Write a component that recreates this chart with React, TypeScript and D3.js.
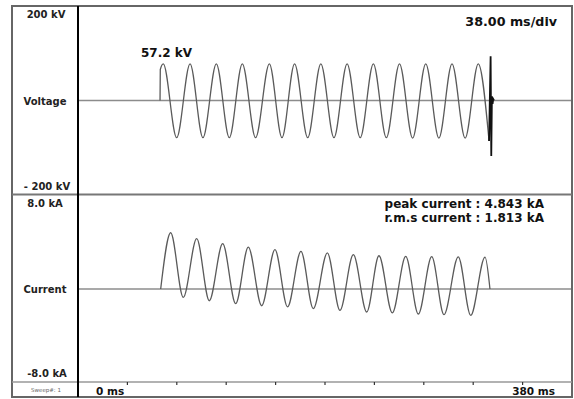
import React from "react";
import * as d3 from "d3";

// ---- data ----
const timeTicksMs = [0, 38, 76, 114, 152, 190, 228, 266, 304, 342, 380];
const voltageStart = { t: 63.1, v: 0 };
const voltageJump = { t: 63.3, v: 66 };
const voltagePeakMs = [65.6, 86.2, 106.4, 126.4, 147.2, 166.6, 186.8, 207.0, 227.2, 247.3, 267.5, 287.7, 307.9];
const voltagePeakKv = [78, 78, 78, 78, 78, 78, 78, 78, 78, 78, 78, 78, 78];
const voltageTroughMs = [75.9, 96.1, 116.4, 136.6, 156.9, 176.7, 196.9, 217.1, 237.2, 257.4, 277.6, 297.8];
const voltageTroughKv = [-79, -79, -79, -79, -79, -79, -79, -79, -79, -80, -80, -80];
const voltageTailMs = [316.2];
const voltageTailKv = [-86];
const spikeMs = [316.2, 317.4, 317.9, 318.4, 318.9, 319.4, 320.0];
const spikeKv = [-86, 94, -118, 9, -7, 3, 0];

const currentStart = { t: 63.6, v: 0 };
const currentPeakMs = [71.3, 91.3, 111.3, 131.0, 151.5, 171.5, 191.8, 211.8, 231.5, 252.1, 272.1, 292.5, 313.1];
const currentPeakKa = [4.84, 4.33, 3.9, 3.61, 3.38, 3.23, 3.1, 2.95, 2.86, 2.8, 2.78, 2.77, 2.75];
const currentTroughMs = [81.0, 101.0, 121.3, 141.3, 161.2, 181.0, 201.5, 222.1, 241.8, 261.8, 281.5, 302.1];
const currentTroughKa = [-0.72, -1.01, -1.26, -1.44, -1.54, -1.69, -1.84, -1.98, -2.06, -2.15, -2.21, -2.27];
const currentEnd = { t: 316.9, v: 0 };

const voltageLabels = ["200 kV", "Voltage", "- 200 kV"];
const currentLabels = ["8.0 kA", "Current", "-8.0 kA"];
const peakLabel = "57.2 kV";
const divLabel = "38.00 ms/div";
const peakCurrentLabel = "peak current : 4.843 kA";
const rmsCurrentLabel = "r.m.s current : 1.813 kA";
const sweepLabel = "Sweep#: 1";
const timeStartLabel = "0 ms";
const timeEndLabel = "380 ms";

type Pt = { t: number; v: number };

function interleave(pMs: number[], pV: number[], tMs: number[], tV: number[]): Pt[] {
  const out: Pt[] = [];
  for (let i = 0; i < pMs.length; i++) {
    out.push({ t: pMs[i], v: pV[i] });
    if (i < tMs.length) out.push({ t: tMs[i], v: tV[i] });
  }
  return out;
}

export default function App() {
  const W = 574;
  const H = 399;
  const left = 12, right = 572, top = 6, bottom = 397;
  const divX = 78;
  const panelSplit = 194.5;
  const stripY = 382;

  const x = d3.scaleLinear().domain([0, 380]).range([divX, right]);
  const yV = d3.scaleLinear().domain([-200, 200]).range([194.5, 6.5]);
  const yI = d3.scaleLinear().domain([-8, 8]).range([382, 196]);

  const vPts: Pt[] = [
    voltageStart,
    voltageJump,
    ...interleave(voltagePeakMs, voltagePeakKv, voltageTroughMs, voltageTroughKv),
    ...voltageTailMs.map((t, i) => ({ t, v: voltageTailKv[i] })),
  ];
  const spikePts: Pt[] = spikeMs.map((t, i) => ({ t, v: spikeKv[i] }));
  const iPts: Pt[] = [
    currentStart,
    ...interleave(currentPeakMs, currentPeakKa, currentTroughMs, currentTroughKa),
    currentEnd,
  ];

  const vLine = d3
    .line<Pt>()
    .x((d) => x(d.t))
    .y((d) => yV(d.v))
    .curve(d3.curveMonotoneX);
  const spikeLine = d3
    .line<Pt>()
    .x((d) => x(d.t))
    .y((d) => yV(d.v))
    .curve(d3.curveLinear);
  const iLine = d3
    .line<Pt>()
    .x((d) => x(d.t))
    .y((d) => yI(d.v))
    .curve(d3.curveMonotoneX);

  const font = "'DejaVu Sans', 'Open Sans', sans-serif";
  const labelX = 45;

  return (
    <svg
      width={W}
      height={H}
      style={{ position: "absolute", left: 0, top: 0, background: "#fff" }}
      fontFamily={font}
    >
      <rect x={0} y={0} width={W} height={H} fill="#fff" />
      {/* zero baselines */}
      <line x1={divX} x2={right} y1={yV(0)} y2={yV(0)} stroke="#8c8c8c" strokeWidth={1.5} />
      <line x1={divX} x2={right} y1={yI(0)} y2={yI(0)} stroke="#8c8c8c" strokeWidth={1.5} />
      {/* waveforms */}
      <path d={vLine(vPts) || ""} fill="none" stroke="#5a5a5a" strokeWidth={1.3} />
      <path d={spikeLine(spikePts) || ""} fill="none" stroke="#111" strokeWidth={1.8} />
      <path d={iLine(iPts) || ""} fill="none" stroke="#5a5a5a" strokeWidth={1.3} />

      {/* frame */}
      <rect x={left} y={top} width={right - left} height={bottom - top} fill="none" stroke="#666" strokeWidth={2} />
      <line x1={left} x2={right} y1={panelSplit} y2={panelSplit} stroke="#777" strokeWidth={2} />
      <line x1={left} x2={right} y1={stripY} y2={stripY} stroke="#999" strokeWidth={1.5} />
      <line x1={divX} x2={divX} y1={top} y2={bottom} stroke="#000" strokeWidth={2} />

      {/* time ticks */}
      {timeTicksMs.slice(1, -1).map((t) => (
        <line key={t} x1={x(t)} x2={x(t)} y1={stripY} y2={stripY + 3} stroke="#333" strokeWidth={1.2} />
      ))}

      {/* axis labels */}
      <g fontWeight={700} fontSize={10} fill="#222" textAnchor="middle">
        <text x={labelX + 1} y={18}>{voltageLabels[0]}</text>
        <text x={labelX} y={105}>{voltageLabels[1]}</text>
        <text x={labelX + 2} y={190}>{voltageLabels[2]}</text>
        <text x={labelX} y={207}>{currentLabels[0]}</text>
        <text x={labelX} y={293}>{currentLabels[1]}</text>
        <text x={labelX + 2} y={377}>{currentLabels[2]}</text>
      </g>
      <text x={46} y={392} fontSize={5.5} fill="#666" textAnchor="middle">{sweepLabel}</text>

      <g fontWeight={700} fontSize={12} fill="#111">
        <text x={141} y={57}>{peakLabel}</text>
        <text x={557} y={26} textAnchor="end" fontSize={12.7}>{divLabel}</text>
        <text x={544} y={207.5} textAnchor="end">{peakCurrentLabel}</text>
        <text x={544} y={222} textAnchor="end">{rmsCurrentLabel}</text>
        <text x={96} y={395} fontSize={10.5}>{timeStartLabel}</text>
        <text x={555} y={395} textAnchor="end" fontSize={10.5}>{timeEndLabel}</text>
      </g>
    </svg>
  );
}
